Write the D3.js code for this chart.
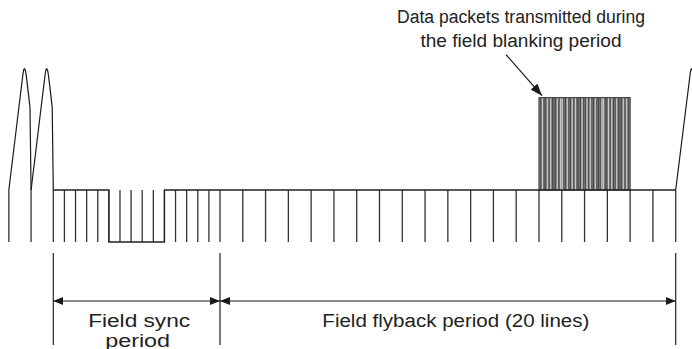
<!DOCTYPE html>
<html>
<head>
<meta charset="utf-8">
<script src="https://cdn.jsdelivr.net/npm/d3@7"></script>
<style>
  html, body { margin: 0; padding: 0; background: #fff; }
  svg { display: block; }
  text { font-family: "Liberation Sans", Arial, Helvetica, sans-serif; fill: #222; }
</style>
</head>
<body>
<svg id="chart" width="692" height="349"></svg>
<script>
// ---------- data (time in TV lines, level in volts) ----------
const syncPulseTimes = [-2, -1, 0, 0.5, 1, 1.5, 2, 2.5, 3, 3.5, 4, 4.5, 5, 5.5, 6, 6.5, 7, 7.5,
  8.5, 9.5, 10.5, 11.5, 12.5, 13.5, 14.5, 15.5, 16.5, 17.5, 18.5, 19.5, 20.5, 21.5,
  22.5, 23.5, 24.5, 25.5, 26.5, 27.5];
const blankingTimes  = [0, 2.5, 2.5, 5, 5, 27.5];
const blankingLevels = [0.3, 0.3, 0, 0, 0.3, 0.3];
const videoLineStarts = [-2, -1, 27.5];
const videoShapeT = [0, 0.64, 0.675, 0.71, 0.745, 0.785, 0.95, 1.0];
const videoShapeV = [0.3, 0.975, 0.997, 1.0, 0.99, 0.96, 0.78, 0.3];
const syncTip = 0, blankLevel = 0.3, whiteLevel = 1.0;
const packetSpan = [21.5, 25.5];
const packetLevel = 0.833;
const packetBits = [1,0,1,1,0,1,0,1,1,1,0,1,0,0,1,1,0,1,1,0,1,0,1,1,1,0,1,1,0,1,0,1,
  1,0,1,1,1,0,0,1,1,0,1,0,1,1,0,1,1,1,0,1,0,1];
const periodNames  = [["Field sync", "period"], ["Field flyback period (20 lines)"]];
const periodStarts = [0, 7.5];
const periodEnds   = [7.5, 27.5];
const packetLabel  = ["Data packets transmitted during", "the field blanking period"];

// ---------- scales ----------
const svg = d3.select("#chart");
const x = d3.scaleLinear().domain([0, 7.5, 27.5]).range([53.3, 220, 675.7]);
const y = d3.scaleLinear().domain([syncTip, whiteLevel]).range([242, 68.7]);

const defs = svg.append("defs");
defs.append("marker").attr("id", "ah").attr("viewBox", "0 0 10 8")
  .attr("refX", 10).attr("refY", 4).attr("markerWidth", 10).attr("markerHeight", 8)
  .attr("markerUnits", "userSpaceOnUse").attr("orient", "auto-start-reverse")
  .append("path").attr("d", "M0,0 L10,4 L0,8 Z").attr("fill", "#1a1a1a");
defs.append("marker").attr("id", "ah2").attr("viewBox", "0 0 12 9")
  .attr("refX", 12).attr("refY", 4.5).attr("markerWidth", 12).attr("markerHeight", 9)
  .attr("markerUnits", "userSpaceOnUse").attr("orient", "auto")
  .append("path").attr("d", "M0,0 L12,4.5 L0,9 Z").attr("fill", "#1a1a1a");

// ---------- data packets box ----------
const bx0 = x(packetSpan[0]), bx1 = x(packetSpan[1]);
const g = svg.append("g");
g.append("rect").attr("x", bx0).attr("y", y(packetLevel))
  .attr("width", bx1 - bx0).attr("height", y(blankLevel) - y(packetLevel))
  .attr("fill", "#8c8c8c");
const bitX = d3.scaleBand().domain(d3.range(packetBits.length)).range([bx0 + 1, bx1 - 1]);
g.selectAll("line.bit").data(packetBits).join("line").attr("class", "bit")
  .attr("x1", (d, i) => bitX(i) + bitX.bandwidth() / 2)
  .attr("x2", (d, i) => bitX(i) + bitX.bandwidth() / 2)
  .attr("y1", y(packetLevel)).attr("y2", y(blankLevel))
  .attr("stroke", d => d ? "#3a3a3a" : "#e8e8e8")
  .attr("stroke-width", d => d ? 0.9 : 0.7);
g.append("rect").attr("x", bx0).attr("y", y(packetLevel))
  .attr("width", bx1 - bx0).attr("height", y(blankLevel) - y(packetLevel))
  .attr("fill", "none").attr("stroke", "#444").attr("stroke-width", 1.2);

// ---------- sync pulses ----------
svg.append("g").selectAll("line").data(syncPulseTimes).join("line")
  .attr("x1", d => x(d)).attr("x2", d => x(d))
  .attr("y1", y(blankLevel)).attr("y2", y(syncTip))
  .attr("stroke", "#333").attr("stroke-width", 1.3);

// ---------- blanking / broad sync level ----------
const lineGen = d3.line().x(d => x(d[0])).y(d => y(d[1]));
svg.append("path")
  .attr("d", lineGen(blankingTimes.map((t, i) => [t, blankingLevels[i]])))
  .attr("fill", "none").attr("stroke", "#222").attr("stroke-width", 1.3);

// ---------- video lines ----------
svg.append("g").selectAll("path").data(videoLineStarts).join("path")
  .attr("d", s => lineGen(videoShapeT.map((t, i) => [s + t, videoShapeV[i]])))
  .attr("fill", "none").attr("stroke", "#1a1a1a").attr("stroke-width", 1.2)
  .attr("stroke-linejoin", "round");

// ---------- dimension lines ----------
const dimY = 301;
const extTimes = [periodStarts[0], periodStarts[1], periodEnds[1]];
svg.append("g").selectAll("line").data(extTimes).join("line")
  .attr("x1", d => x(d)).attr("x2", d => x(d)).attr("y1", 253).attr("y2", 345)
  .attr("stroke", "#222").attr("stroke-width", 1.2);
svg.append("g").selectAll("line").data(periodStarts).join("line")
  .attr("x1", d => x(d)).attr("x2", (d, i) => x(periodEnds[i]))
  .attr("y1", dimY).attr("y2", dimY)
  .attr("stroke", "#1a1a1a").attr("stroke-width", 1.2)
  .attr("marker-start", "url(#ah)").attr("marker-end", "url(#ah)");
// label layout: centre offset and drawn width of each text line
const labelLayout = [[{dx: 2.5, w: 102}, {dx: 1, w: 65}], [{dx: 8, w: 267}]];
periodNames.forEach((lines, i) => {
  const cx = (x(periodStarts[i]) + x(periodEnds[i])) / 2;
  lines.forEach((txt, j) => {
    const L = labelLayout[i][j];
    svg.append("text").attr("x", cx + L.dx).attr("y", 327 + j * 19.5)
      .attr("text-anchor", "middle").attr("font-size", 18)
      .attr("textLength", L.w).attr("lengthAdjust", "spacingAndGlyphs").text(txt);
  });
});

// ---------- packet annotation ----------
const tipX = bx0 + 3, tipY = y(packetLevel) - 2;
svg.append("line").attr("x1", tipX - 36).attr("y1", tipY - 41)
  .attr("x2", tipX).attr("y2", tipY)
  .attr("stroke", "#1a1a1a").attr("stroke-width", 1.2).attr("marker-end", "url(#ah2)");
const topWidths = [248, 201];
packetLabel.forEach((txt, j) => {
  svg.append("text").attr("x", 521).attr("y", 23 + j * 24)
    .attr("text-anchor", "middle").attr("font-size", 17.6)
    .attr("textLength", topWidths[j]).attr("lengthAdjust", "spacingAndGlyphs").text(txt);
});
</script>
</body>
</html>
